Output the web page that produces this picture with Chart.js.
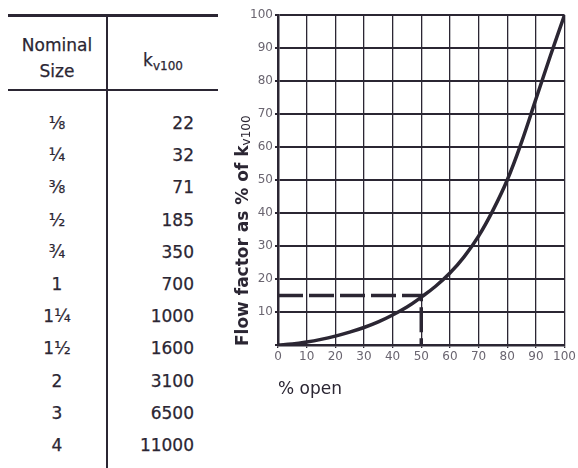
<!DOCTYPE html>
<html>
<head>
<meta charset="utf-8">
<script src="https://cdn.jsdelivr.net/npm/chart.js@4"></script>
<style>
  body { margin: 0; background: #fff; }
  #wrap { position: relative; width: 578px; height: 468px; overflow: hidden; font-family: "DejaVu Sans", sans-serif; color: #2b2633; }
  .hline { position: absolute; background: #2b2633; }
  .cell { position: absolute; font-size: 17px; line-height: 20px; -webkit-text-stroke: 0.25px #2b2633; }
  #chartBox { position: absolute; left: 230px; top: 0; width: 348px; height: 410px; }
  #yTitle { position: absolute; left: 231px; top: 0; height: 346px; width: 22px; line-height: 22px;
            writing-mode: vertical-rl; transform: rotate(180deg); text-align: start;
            font-size: 17px; font-weight: bold; white-space: nowrap; }
</style>
</head>
<body>
<div id="wrap">
  <div class="hline" style="left:8px;top:14px;width:210px;height:3px"></div>
  <div class="hline" style="left:8px;top:89px;width:210px;height:2px"></div>
  <div class="hline" style="left:106px;top:15px;width:2px;height:453px"></div>
  <div class="cell" style="left:7px;width:100px;top:32px;text-align:center;line-height:26px">Nominal<br>Size</div>
  <div class="cell" style="left:120px;width:86px;top:50px;text-align:center">k<sub style="font-size:12px">v100</sub></div>
  <div id="rows"></div>
  <div id="chartBox"><canvas id="myChart"></canvas></div>
  <div id="yTitle">Flow factor as % of k<sub style="font-size:12px;font-weight:normal">v100</sub></div>
</div>
<script>
// table values
const nominalSizes = ['⅛', '¼', '⅜', '½', '¾', '1', '1¼', '1½', '2', '3', '4'];
const kv100 = [22, 32, 71, 185, 350, 700, 1000, 1600, 3100, 6500, 11000];

// curve
const openPct = [0, 5, 10, 15, 20, 25, 30, 35, 40, 45, 50, 55, 60, 65, 70, 75, 80, 85, 90, 95, 100];
const flowPct = [0, 0.3, 0.9, 1.7, 2.7, 3.9, 5.3, 7.0, 9.1, 11.5, 14.5, 17.8, 21.8, 26.8, 33, 40.8, 50, 61.5, 74.5, 87.5, 100];

// dashed reading at 50% open
const markX = [0, 50, 50];
const markY = [15, 15, 0];

const ink = '#2b2633';

const rows = document.getElementById('rows');
nominalSizes.forEach((s, i) => {
    const top = 113 + i * 32.2;
    rows.insertAdjacentHTML('beforeend',
        '<div class="cell" style="left:7px;width:100px;text-align:center;top:' + top + 'px">' + s + '</div>' +
        '<div class="cell" style="left:110px;width:84px;text-align:right;top:' + top + 'px">' + kv100[i] + '</div>');
});

const renderChart = () => {
    const ctx = document.getElementById('myChart').getContext('2d');
    new Chart(ctx, {
        type: 'line',
        data: {
            datasets: [{
                data: openPct.map((x, i) => ({ x: x, y: flowPct[i] })),
                borderColor: ink,
                borderWidth: 3.5,
                pointRadius: 0,
                tension: 0.4
            }, {
                data: markX.map((x, i) => ({ x: x, y: markY[i] })),
                borderColor: ink,
                borderWidth: 3.5,
                borderDash: [25, 6],
                pointRadius: 0,
                tension: 0
            }]
        },
        options: {
            responsive: true,
            maintainAspectRatio: false,
            animation: false,
            layout: { padding: { left: 0, top: 15, right: 13, bottom: 0 } },
            plugins: { legend: { display: false }, tooltip: { enabled: false } },
            scales: {
                x: {
                    type: 'linear',
                    min: 0,
                    max: 100,
                    afterFit: s => { s.height = 65; },
                    ticks: { stepSize: 10, color: '#6a6570', padding: 2, maxRotation: 0, font: { family: 'DejaVu Sans', size: 12 } },
                    grid: { color: ink, lineWidth: 1.3, tickLength: 3 },
                    border: { color: ink, width: 2.5 },
                    title: {
                        display: true,
                        text: '% open',
                        align: 'start',
                        color: ink,
                        padding: { top: 0, bottom: 10 },
                        font: { family: 'DejaVu Sans', size: 17 }
                    }
                },
                y: {
                    min: 0,
                    max: 100,
                    afterFit: s => { s.width = 48; },
                    ticks: {
                        stepSize: 10,
                        color: '#6a6570',
                        padding: 2,
                        font: { family: 'DejaVu Sans', size: 12 },
                        callback: v => v === 0 ? '' : v
                    },
                    grid: { color: ink, lineWidth: 2, tickLength: 3 },
                    border: { color: ink, width: 2.5 }
                }
            }
        }
    });
};

document.addEventListener('DOMContentLoaded', renderChart);
</script>
</body>
</html>
